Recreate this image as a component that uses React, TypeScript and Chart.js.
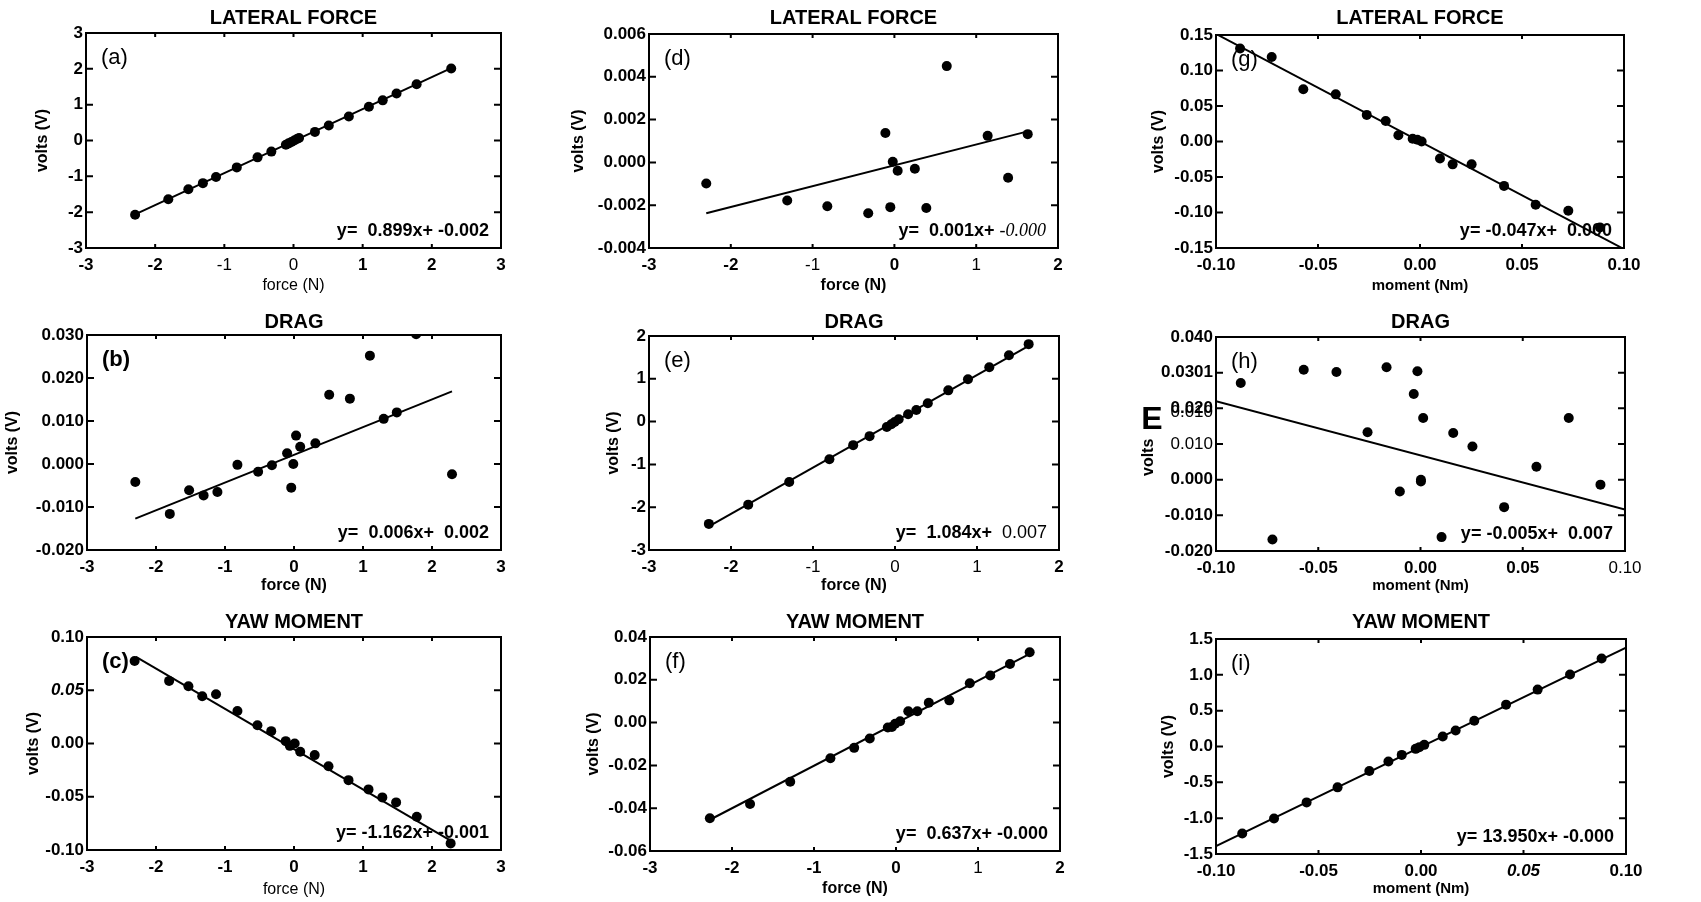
import React, { useEffect, useRef } from "react";
import { Chart, registerables } from "chart.js";

Chart.register(...registerables);

const FONT = '"Liberation Sans", Arial, Helvetica, sans-serif';
Chart.defaults.font.family = FONT;
Chart.defaults.color = "#000";

// ---------------- data ----------------
// (a) lateral force vs force
const aX = [-2.29, -1.81, -1.52, -1.31, -1.12, -0.82, -0.52, -0.32, -0.11, -0.07, -0.03, 0.01, 0.05, 0.08, 0.31, 0.51, 0.8, 1.09, 1.29, 1.49, 1.78, 2.28];
const aY = [-2.07, -1.64, -1.36, -1.19, -1.02, -0.75, -0.47, -0.31, -0.12, -0.08, -0.04, 0.0, 0.04, 0.07, 0.24, 0.42, 0.67, 0.94, 1.12, 1.31, 1.57, 2.01];
const aLineX = [-2.29, 2.28];
const aLineY = [-2.06, 2.02];

// (b) drag vs force
const bX = [-2.3, -1.8, -1.52, -1.31, -1.11, -0.82, -0.52, -0.32, -0.1, -0.04, -0.01, 0.03, 0.09, 0.31, 0.51, 0.81, 1.1, 1.3, 1.49, 1.77, 2.29];
const bY = [-0.0042, -0.0116, -0.0061, -0.0073, -0.0065, -0.0002, -0.0018, -0.0003, 0.0025, -0.0055, 0.0, 0.0066, 0.004, 0.0048, 0.0161, 0.0152, 0.0252, 0.0105, 0.012, 0.0302, -0.0024];
const bLineX = [-2.3, 2.29];
const bLineY = [-0.0127, 0.0169];

// (c) yaw moment vs force
const cX = [-2.31, -1.81, -1.53, -1.33, -1.13, -0.82, -0.53, -0.33, -0.12, -0.06, 0.01, 0.09, 0.3, 0.5, 0.79, 1.08, 1.28, 1.48, 1.78, 2.27];
const cY = [0.0775, 0.0588, 0.0538, 0.0444, 0.0463, 0.0306, 0.0172, 0.0116, 0.0022, -0.0022, 0.0, -0.0078, -0.0109, -0.0213, -0.0344, -0.0431, -0.0506, -0.0553, -0.0688, -0.0938];
const cLineX = [-2.29, 2.27];
const cLineY = [0.0813, -0.0913];

// (d) lateral force vs force
const dX = [-2.3, -1.31, -0.82, -0.32, -0.11, -0.05, -0.02, 0.04, 0.25, 0.39, 0.64, 1.14, 1.39, 1.63];
const dY = [-0.00099, -0.00178, -0.00205, -0.00238, 0.00137, -0.00209, 0.00003, -0.00039, -0.0003, -0.00213, 0.0045, 0.00124, -0.00072, 0.00132];
const dLineX = [-2.3, 1.63];
const dLineY = [-0.00238, 0.00145];

// (e) drag vs force
const eX = [-2.27, -1.79, -1.29, -0.8, -0.51, -0.31, -0.1, -0.045, -0.004, 0.045, 0.16, 0.26, 0.4, 0.65, 0.89, 1.15, 1.39, 1.63];
const eY = [-2.39, -1.94, -1.41, -0.88, -0.55, -0.34, -0.125, -0.06, -0.01, 0.055, 0.17, 0.27, 0.43, 0.73, 0.99, 1.27, 1.55, 1.81];
const eLineX = [-2.27, 1.63];
const eLineY = [-2.45, 1.77];

// (f) yaw moment vs force
const fX = [-2.27, -1.78, -1.29, -0.8, -0.51, -0.32, -0.1, -0.05, -0.01, 0.05, 0.15, 0.26, 0.4, 0.65, 0.9, 1.15, 1.39, 1.63];
const fY = [-0.0447, -0.038, -0.0276, -0.0167, -0.0118, -0.0074, -0.0023, -0.002, -0.0005, 0.0006, 0.0053, 0.0053, 0.0093, 0.0104, 0.0184, 0.022, 0.0274, 0.0329];
const fLineX = [-2.27, 1.63];
const fLineY = [-0.0454, 0.0321];

// (g) lateral force vs moment
const gX = [-0.0882, -0.0727, -0.0572, -0.0413, -0.0261, -0.0168, -0.0106, -0.0036, -0.0013, 0.0008, 0.0098, 0.016, 0.0253, 0.0412, 0.0567, 0.0727, 0.0882];
const gY = [0.131, 0.119, 0.0736, 0.0664, 0.0375, 0.0289, 0.0087, 0.0038, 0.0024, 0.0, -0.024, -0.0322, -0.0322, -0.0625, -0.089, -0.0976, -0.121];
const gLineX = [-0.1, 0.1];
const gLineY = [0.1515, -0.1515];

// (h) drag vs moment
const hX = [-0.0879, -0.0724, -0.0571, -0.0411, -0.0259, -0.0166, -0.0101, -0.0033, -0.0015, 0.0002, 0.0002, 0.0013, 0.0103, 0.016, 0.0254, 0.0409, 0.0567, 0.0725, 0.088];
const hY = [0.0271, -0.0168, 0.0308, 0.0302, 0.0133, 0.0315, -0.0033, 0.024, 0.0304, -0.0005, 0.0, 0.0173, -0.0161, 0.0131, 0.0093, -0.0077, 0.0036, 0.0173, -0.0014];
const hLineX = [-0.1, 0.1];
const hLineY = [0.022, -0.0084];

// (i) yaw moment vs moment
const iX = [-0.0872, -0.0717, -0.0558, -0.0407, -0.0252, -0.0159, -0.0094, -0.0026, -0.0008, 0.0016, 0.0106, 0.0169, 0.026, 0.0415, 0.0569, 0.0727, 0.0881];
const iY = [-1.215, -1.005, -0.78, -0.57, -0.341, -0.21, -0.117, -0.033, -0.009, 0.023, 0.14, 0.224, 0.36, 0.584, 0.794, 1.005, 1.229];
const iLineX = [-0.1, 0.1];
const iLineY = [-1.39, 1.38];

// ---------------- ticks ----------------
const force6Ticks = [-3, -2, -1, 0, 1, 2, 3];
const force6Labels = ["-3", "-2", "-1", "0", "1", "2", "3"];
const force5Ticks = [-3, -2, -1, 0, 1, 2];
const force5Labels = ["-3", "-2", "-1", "0", "1", "2"];
const momentTicks = [-0.1, -0.05, 0, 0.05, 0.1];
const momentLabels = ["-0.10", "-0.05", "0.00", "0.05", "0.10"];

const aYTicks = [-3, -2, -1, 0, 1, 2, 3];
const aYLabels = ["-3", "-2", "-1", "0", "1", "2", "3"];
const bYTicks = [-0.02, -0.01, 0, 0.01, 0.02, 0.03];
const bYLabels = ["-0.020", "-0.010", "0.000", "0.010", "0.020", "0.030"];
const cYTicks = [-0.1, -0.05, 0, 0.05, 0.1];
const cYLabels = ["-0.10", "-0.05", "0.00", "0.05", "0.10"];
const dYTicks = [-0.004, -0.002, 0, 0.002, 0.004, 0.006];
const dYLabels = ["-0.004", "-0.002", "0.000", "0.002", "0.004", "0.006"];
const eYTicks = [-3, -2, -1, 0, 1, 2];
const eYLabels = ["-3", "-2", "-1", "0", "1", "2"];
const fYTicks = [-0.06, -0.04, -0.02, 0, 0.02, 0.04];
const fYLabels = ["-0.06", "-0.04", "-0.02", "0.00", "0.02", "0.04"];
const gYTicks = [-0.15, -0.1, -0.05, 0, 0.05, 0.1, 0.15];
const gYLabels = ["-0.15", "-0.10", "-0.05", "0.00", "0.05", "0.10", "0.15"];
const hYTicks = [-0.02, -0.01, 0, 0.01, 0.02, 0.03, 0.04];
const hYLabels = ["-0.020", "-0.010", "0.000", "0.010", "0.020", "0.0301", "0.040"];
const iYTicks = [-1.5, -1, -0.5, 0, 0.5, 1, 1.5];
const iYLabels = ["-1.5", "-1.0", "-0.5", "0.0", "0.5", "1.0", "1.5"];

// ---------------- texts ----------------
const titles = ["LATERAL FORCE", "DRAG", "YAW MOMENT", "LATERAL FORCE", "DRAG", "YAW MOMENT", "LATERAL FORCE", "DRAG", "YAW MOMENT"];
const tags = ["(a)", "(b)", "(c)", "(d)", "(e)", "(f)", "(g)", "(h)", "(i)"];

const EQB = `bold 18px ${FONT}`;
const EQN = `18px ${FONT}`;
const EQI = `italic 18px "Liberation Serif", "Times New Roman", serif`;
type Seg = [string, string];
const equations: Seg[][] = [
  [["y=  0.899x+ -0.002", EQB]],
  [["y=  0.006x+  0.002", EQB]],
  [["y= -1.162x+ -0.001", EQB]],
  [["y=  0.001x+ ", EQB], ["-0.000", EQI]],
  [["y=  1.084x+  ", EQB], ["0.007", EQN]],
  [["y=  0.637x+ -0.000", EQB]],
  [["y= -0.047x+  0.000", EQB]],
  [["y= -0.005x+  0.007", EQB]],
  [["y= 13.950x+ -0.000", EQB]],
];

// ---------------- layout (page pixels) ----------------
interface Geo { pl: number; pr: number; pt: number; pb: number; yT: number; xT: number; tY: number; }
const geos: Geo[] = [
  { pl: 86, pr: 501, pt: 33, pb: 248, yT: 42, xT: 285, tY: 18 },
  { pl: 87, pr: 501, pt: 335, pb: 550, yT: 12, xT: 585, tY: 322 },
  { pl: 87, pr: 501, pt: 637, pb: 850, yT: 33, xT: 889, tY: 622 },
  { pl: 649, pr: 1058, pt: 34, pb: 248, yT: 578, xT: 285, tY: 18 },
  { pl: 649, pr: 1059, pt: 336, pb: 550, yT: 613, xT: 585, tY: 322 },
  { pl: 650, pr: 1060, pt: 637, pb: 851, yT: 593, xT: 888, tY: 622 },
  { pl: 1216, pr: 1624, pt: 35, pb: 248, yT: 1158, xT: 285, tY: 18 },
  { pl: 1216, pr: 1625, pt: 337, pb: 551, yT: 1148, xT: 585, tY: 322 },
  { pl: 1216, pr: 1626, pt: 639, pb: 854, yT: 1168, xT: 888, tY: 622 },
];

interface Extra { text: string; dx: number; dy: number; font: string; align: string; }
interface PanelDef {
  xs: number[]; ys: number[]; lx: number[]; ly: number[];
  xTicks: number[]; xLabels: string[]; yTicks: number[]; yLabels: string[];
  xTitle: string; xTitleBold: boolean; xTitleSize: number; yTitle: string;
  tagBold: boolean; xItalic: string[]; yItalic: string[]; xLight: string[]; yLight: string[];
  extras: Extra[];
}

const defs: PanelDef[] = [
  { xs: aX, ys: aY, lx: aLineX, ly: aLineY, xTicks: force6Ticks, xLabels: force6Labels, yTicks: aYTicks, yLabels: aYLabels, xTitle: "force (N)", xTitleBold: false, xTitleSize: 16, yTitle: "volts (V)", tagBold: false, xItalic: [], yItalic: [], xLight: ["0", "-1"], yLight: [], extras: [] },
  { xs: bX, ys: bY, lx: bLineX, ly: bLineY, xTicks: force6Ticks, xLabels: force6Labels, yTicks: bYTicks, yLabels: bYLabels, xTitle: "force (N)", xTitleBold: true, xTitleSize: 16, yTitle: "volts (V)", tagBold: true, xItalic: [], yItalic: [], xLight: [], yLight: [], extras: [] },
  { xs: cX, ys: cY, lx: cLineX, ly: cLineY, xTicks: force6Ticks, xLabels: force6Labels, yTicks: cYTicks, yLabels: cYLabels, xTitle: "force (N)", xTitleBold: false, xTitleSize: 16, yTitle: "volts (V)", tagBold: true, xItalic: [], yItalic: ["0.05"], xLight: [], yLight: [], extras: [] },
  { xs: dX, ys: dY, lx: dLineX, ly: dLineY, xTicks: force5Ticks, xLabels: force5Labels, yTicks: dYTicks, yLabels: dYLabels, xTitle: "force (N)", xTitleBold: true, xTitleSize: 16, yTitle: "volts (V)", tagBold: false, xItalic: [], yItalic: [], xLight: ["-1", "1"], yLight: [], extras: [] },
  { xs: eX, ys: eY, lx: eLineX, ly: eLineY, xTicks: force5Ticks, xLabels: force5Labels, yTicks: eYTicks, yLabels: eYLabels, xTitle: "force (N)", xTitleBold: true, xTitleSize: 16, yTitle: "volts (V)", tagBold: false, xItalic: [], yItalic: [], xLight: ["-1", "0", "1"], yLight: [], extras: [] },
  { xs: fX, ys: fY, lx: fLineX, ly: fLineY, xTicks: force5Ticks, xLabels: force5Labels, yTicks: fYTicks, yLabels: fYLabels, xTitle: "force (N)", xTitleBold: true, xTitleSize: 16, yTitle: "volts (V)", tagBold: false, xItalic: [], yItalic: [], xLight: ["1"], yLight: [], extras: [] },
  { xs: gX, ys: gY, lx: gLineX, ly: gLineY, xTicks: momentTicks, xLabels: momentLabels, yTicks: gYTicks, yLabels: gYLabels, xTitle: "moment (Nm)", xTitleBold: true, xTitleSize: 15, yTitle: "volts (V)", tagBold: false, xItalic: [], yItalic: [], xLight: [], yLight: [], extras: [] },
  {
    xs: hX, ys: hY, lx: hLineX, ly: hLineY, xTicks: momentTicks, xLabels: momentLabels, yTicks: hYTicks, yLabels: hYLabels, xTitle: "moment (Nm)", xTitleBold: true, xTitleSize: 15, yTitle: "volts      ", tagBold: false, xItalic: [], yItalic: [], xLight: ["0.10"], yLight: ["0.010"],
    extras: [
      { text: "E", dx: -64, dy: 83, font: `bold 32px ${FONT}`, align: "center" },
      { text: "0.010", dx: -3, dy: 75, font: `17px ${FONT}`, align: "right" },
    ],
  },
  { xs: iX, ys: iY, lx: iLineX, ly: iLineY, xTicks: momentTicks, xLabels: momentLabels, yTicks: iYTicks, yLabels: iYLabels, xTitle: "moment (Nm)", xTitleBold: true, xTitleSize: 15, yTitle: "volts (V)", tagBold: false, xItalic: ["0.05"], yItalic: [], xLight: [], yLight: [], extras: [] },
];

// ---------------- plugins ----------------
const framePlugin = {
  id: "frame",
  afterDraw(chart: any) {
    const { ctx, chartArea: a, scales } = chart;
    ctx.save();
    ctx.strokeStyle = "#000";
    ctx.lineWidth = 2;
    ctx.strokeRect(a.left, a.top, a.right - a.left, a.bottom - a.top);
    ctx.beginPath();
    for (const t of scales.y.ticks) {
      const p = scales.y.getPixelForValue(t.value);
      ctx.moveTo(a.left, p); ctx.lineTo(a.left + 7, p);
      ctx.moveTo(a.right, p); ctx.lineTo(a.right - 7, p);
    }
    for (const t of scales.x.ticks) {
      const p = scales.x.getPixelForValue(t.value);
      ctx.moveTo(p, a.top); ctx.lineTo(p, a.top + 4);
      ctx.moveTo(p, a.bottom); ctx.lineTo(p, a.bottom - 4);
    }
    ctx.stroke();
    ctx.restore();
  },
};

const decoPlugin = {
  id: "deco",
  afterDraw(chart: any, _args: any, opts: any) {
    const { ctx, chartArea: a } = chart;
    ctx.save();
    ctx.fillStyle = "#000";
    ctx.textBaseline = "middle";
    for (const e of (opts.extras || []) as Extra[]) {
      ctx.font = e.font;
      ctx.textAlign = e.align;
      ctx.fillText(e.text, a.left + e.dx, a.top + e.dy);
    }
    ctx.restore();
  },
  beforeDatasetsDraw(chart: any, _args: any, opts: any) {
    const { ctx, chartArea: a } = chart;
    ctx.save();
    ctx.fillStyle = "#000";
    ctx.textBaseline = "middle";
    ctx.textAlign = "left";
    ctx.font = opts.tagFont;
    ctx.fillText(opts.tag, a.left + 15, a.top + 25);
    let total = 0;
    for (const [t, f] of opts.eq as Seg[]) { ctx.font = f; total += ctx.measureText(t).width; }
    let x = a.right - 12 - total;
    const y = a.bottom - 17;
    for (const [t, f] of opts.eq as Seg[]) { ctx.font = f; ctx.fillText(t, x, y); x += ctx.measureText(t).width; }
    ctx.restore();
  },
};

function cellOf(g: Geo) {
  const left = g.yT - 9;
  const top = g.tY - 12;
  const right = g.pr + 30;
  const bottom = g.xT + 10;
  return { left, top, w: right - left, h: bottom - top, yW: g.pl - left, xH: bottom - g.pb, padB: g.pt - top - 24 };
}

function buildConfig(idx: number): any {
  const d = defs[idx];
  const g = geos[idx];
  const c = cellOf(g);
  const tickFont = (italic: string[], light: string[]) => (ctx: any) => {
    const lab = ctx && ctx.tick ? String(ctx.tick.label) : "";
    return { family: FONT, size: 17, weight: light.includes(lab) ? "normal" : "bold", style: italic.includes(lab) ? "italic" : "normal" };
  };
  return {
    type: "scatter",
    data: {
      datasets: [
        {
          data: d.lx.map((x, i) => ({ x, y: d.ly[i] })),
          showLine: true, borderColor: "#000", borderWidth: 2, pointRadius: 0, fill: false,
        },
        {
          data: d.xs.map((x, i) => ({ x, y: d.ys[i] })),
          showLine: false, pointRadius: 5, pointHoverRadius: 5, backgroundColor: "#000", borderColor: "#000", borderWidth: 0,
        },
      ],
    },
    options: {
      responsive: false,
      animation: false,
      events: [],
      layout: { padding: { left: 0, right: 30, top: 0, bottom: 0 } },
      plugins: {
        legend: { display: false },
        tooltip: { enabled: false },
        title: {
          display: true, text: titles[idx], fullSize: false, color: "#000",
          font: { family: FONT, size: 20, weight: "bold", lineHeight: 1.2 },
          padding: { top: 0, bottom: c.padB },
        },
        deco: {
          tag: tags[idx],
          tagFont: `${d.tagBold ? "bold " : ""}22px ${FONT}`,
          eq: equations[idx],
          extras: d.extras,
        },
      },
      scales: {
        x: {
          type: "linear", position: "bottom",
          min: d.xTicks[0], max: d.xTicks[d.xTicks.length - 1],
          grid: { display: false, drawTicks: false },
          border: { display: false },
          afterBuildTicks: (s: any) => { s.ticks = d.xTicks.map((v) => ({ value: v })); },
          afterFit: (s: any) => { s.height = c.xH; },
          ticks: {
            padding: 7, maxRotation: 0, autoSkip: false, color: "#000",
            font: tickFont(d.xItalic, d.xLight),
            callback: (_v: any, i: number) => d.xLabels[i],
          },
          title: {
            display: true, text: d.xTitle, color: "#000", padding: 0,
            font: { family: FONT, size: d.xTitleSize, weight: d.xTitleBold ? "bold" : "normal", lineHeight: 1.2 },
          },
        },
        y: {
          type: "linear", position: "left",
          min: d.yTicks[0], max: d.yTicks[d.yTicks.length - 1],
          grid: { display: false, drawTicks: false },
          border: { display: false },
          afterBuildTicks: (s: any) => { s.ticks = d.yTicks.map((v) => ({ value: v })); },
          afterFit: (s: any) => { s.width = c.yW; },
          ticks: {
            padding: 3, autoSkip: false, color: "#000",
            font: tickFont(d.yItalic, d.yLight),
            callback: (_v: any, i: number) => d.yLabels[i],
          },
          title: {
            display: true, text: d.yTitle, color: "#000", padding: 0,
            font: { family: FONT, size: 16, weight: "bold", lineHeight: 1.2 },
          },
        },
      },
    },
    plugins: [framePlugin, decoPlugin],
  };
}

function Panel({ idx }: { idx: number }) {
  const ref = useRef<HTMLCanvasElement>(null);
  const c = cellOf(geos[idx]);
  useEffect(() => {
    if (!ref.current) return;
    const chart = new Chart(ref.current, buildConfig(idx));
    return () => chart.destroy();
  }, [idx]);
  return (
    <canvas
      ref={ref}
      width={c.w}
      height={c.h}
      style={{ position: "absolute", left: c.left, top: c.top, width: c.w, height: c.h }}
    />
  );
}

export default function App() {
  return (
    <div style={{ position: "absolute", left: 0, top: 0, width: 1701, height: 902, background: "#fff", overflow: "hidden" }}>
      {defs.map((_, i) => (
        <Panel key={i} idx={i} />
      ))}
    </div>
  );
}
